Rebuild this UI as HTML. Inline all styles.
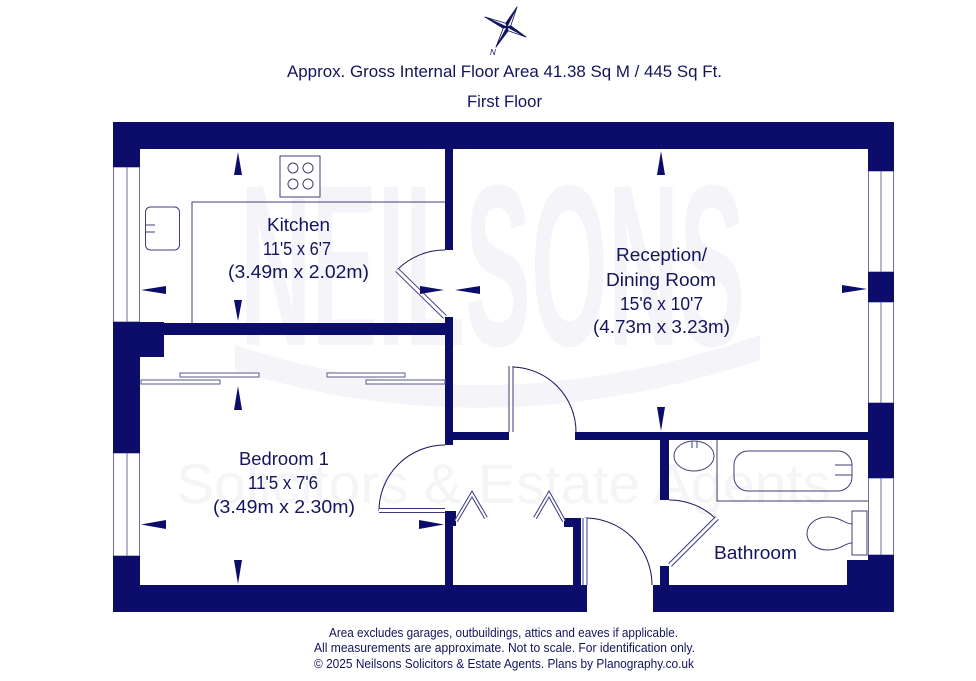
<!DOCTYPE html>
<html><head><meta charset="utf-8"><style>
html,body{margin:0;padding:0;background:#fff;}
svg{display:block;}
text{font-family:"Liberation Sans",sans-serif;fill:#14145e;}
</style></head><body>
<svg width="976" height="681" viewBox="0 0 976 681" xmlns="http://www.w3.org/2000/svg">
<rect width="976" height="681" fill="#fff"/>
<!-- watermark -->
<g>
<path d="M235,345 Q490,430 760,335 L760,360 Q490,450 235,370 Z" fill="#f4f4f9"/>
<text x="240" y="345" font-family="Liberation Serif,serif" font-weight="bold" font-size="230" textLength="505" lengthAdjust="spacingAndGlyphs" style="fill:#f4f4f9">NEILSONS</text>
<text x="176" y="503" font-size="56" textLength="655" lengthAdjust="spacingAndGlyphs" style="fill:#f5f5f8">Solicitors &amp; Estate Agents</text>
</g>

<!-- compass -->
<g stroke="#14145e" stroke-width="0.8" stroke-linejoin="round">
<polygon points="507,27 517,7 505.7,23.2" fill="#14145e"/>
<polygon points="507,27 517,7 510.8,25.8" fill="#fff"/>
<polygon points="507,27 526,37 510.8,25.8" fill="#14145e"/>
<polygon points="507,27 526,37 508.2,30.8" fill="#fff"/>
<polygon points="507,27 496,47 508.2,30.8" fill="#14145e"/>
<polygon points="507,27 496,47 503.2,28.3" fill="#fff"/>
<polygon points="507,27 485,17 503.2,28.3" fill="#14145e"/>
<polygon points="507,27 485,17 505.7,23.2" fill="#fff"/>
</g>
<text x="490" y="55" font-size="8" font-style="italic">N</text>

<!-- titles -->
<text x="287" y="77" font-size="17" textLength="435" lengthAdjust="spacingAndGlyphs">Approx. Gross Internal Floor Area 41.38 Sq M / 445 Sq Ft.</text>
<text x="467" y="107" font-size="17" textLength="75" lengthAdjust="spacingAndGlyphs">First Floor</text>

<!-- windows -->
<g fill="#fff" stroke="#6e6e98" stroke-width="1">
<rect x="113.5" y="167" width="26" height="155"/>
<line x1="127" y1="167" x2="127" y2="322"/>
<rect x="113.5" y="453" width="26" height="103"/>
<line x1="127" y1="453" x2="127" y2="556"/>
<rect x="868.5" y="171" width="25" height="101"/>
<line x1="881" y1="171" x2="881" y2="272"/>
<rect x="868.5" y="302" width="25" height="101"/>
<line x1="881" y1="302" x2="881" y2="403"/>
<rect x="868.5" y="478" width="25" height="77"/>
<line x1="881" y1="478" x2="881" y2="555"/>
</g>

<!-- walls -->
<g fill="#0c0c6a">
<rect x="113" y="122" width="781" height="27"/>
<rect x="113" y="122" width="27" height="45"/>
<rect x="113" y="322" width="27" height="131"/>
<rect x="113" y="322" width="51" height="35"/>
<rect x="140" y="323" width="313" height="12"/>
<rect x="113" y="556" width="27" height="56"/>
<rect x="113" y="585" width="474" height="27"/>
<rect x="653" y="585" width="241" height="27"/>
<rect x="868" y="122" width="26" height="49"/>
<rect x="868" y="272" width="26" height="30"/>
<rect x="868" y="403" width="26" height="75"/>
<rect x="868" y="555" width="26" height="57"/>
<rect x="847" y="560" width="21" height="25"/>
<rect x="445" y="149" width="8" height="101"/>
<rect x="445" y="317" width="8" height="128"/>
<rect x="445" y="511" width="8" height="74"/>
<rect x="445" y="511" width="11" height="15"/>
<rect x="573" y="518" width="8" height="67"/>
<rect x="564" y="518" width="17" height="9"/>
<rect x="453" y="432" width="56" height="8"/>
<rect x="575" y="432" width="293" height="8"/>
<rect x="660" y="440" width="9" height="60"/>
<rect x="660" y="566" width="9" height="19"/>
</g>

<!-- doors -->
<g fill="none" stroke="#14145e" stroke-width="1">
<path d="M445,250 A67,67 0 0 0 397,270"/>
<path d="M445,445 A66,66 0 0 0 379,511"/>
<path d="M511,367 A65,65 0 0 1 576,432"/>
<path d="M585,518 A67,67 0 0 1 652,585"/>
<path d="M669,500 A66,66 0 0 1 716,519"/>
</g>
<g stroke-linecap="butt">
<line x1="445" y1="317" x2="397" y2="270" stroke="#3a3a80" stroke-width="5"/>
<line x1="445" y1="317" x2="397" y2="270" stroke="#fff" stroke-width="3"/>
<line x1="379" y1="510.5" x2="445" y2="510.5" stroke="#3a3a80" stroke-width="5"/>
<line x1="379" y1="510.5" x2="445" y2="510.5" stroke="#fff" stroke-width="3"/>
<line x1="511" y1="366" x2="511" y2="432" stroke="#3a3a80" stroke-width="5"/>
<line x1="511" y1="366" x2="511" y2="432" stroke="#fff" stroke-width="3"/>
<line x1="585" y1="518" x2="585" y2="585" stroke="#3a3a80" stroke-width="5"/>
<line x1="585" y1="518" x2="585" y2="585" stroke="#fff" stroke-width="3"/>
<line x1="670" y1="565" x2="717" y2="518" stroke="#3a3a80" stroke-width="5"/>
<line x1="670" y1="565" x2="717" y2="518" stroke="#fff" stroke-width="3"/>
<polyline points="456,521 472,494 486,518" fill="none" stroke="#3a3a80" stroke-width="4"/>
<polyline points="456,521 472,494 486,518" fill="none" stroke="#fff" stroke-width="2"/>
<polyline points="535,518 549,494 564,521" fill="none" stroke="#3a3a80" stroke-width="4"/>
<polyline points="535,518 549,494 564,521" fill="none" stroke="#fff" stroke-width="2"/>
</g>

<!-- wardrobes -->
<g fill="#fff" stroke="#5a5a8a" stroke-width="1">
<rect x="141" y="380" width="79" height="4"/>
<rect x="180" y="373" width="79" height="4"/>
<rect x="327" y="373" width="78" height="4"/>
<rect x="366" y="380" width="79" height="4"/>
</g>

<!-- kitchen fixtures -->
<g fill="none" stroke="#3f3f78" stroke-width="1">
<polyline points="445,202 192,202 192,323"/>
<rect x="280" y="156" width="40" height="41" fill="#fff"/>
<circle cx="293" cy="168" r="5"/>
<circle cx="308" cy="168" r="5"/>
<circle cx="293" cy="184" r="5"/>
<circle cx="308" cy="184" r="5"/>
<rect x="145.5" y="207" width="34" height="43" rx="5"/>
<line x1="145" y1="225" x2="155" y2="225"/>
<line x1="145" y1="232" x2="155" y2="232"/>
</g>

<!-- bathroom fixtures -->
<g fill="none" stroke="#3f3f78" stroke-width="1">
<ellipse cx="694" cy="456" rx="20" ry="15"/>
<line x1="692" y1="441" x2="692" y2="448"/>
<line x1="697" y1="441" x2="697" y2="448"/>
<polyline points="717,440 717,501 868,501"/>
<rect x="734" y="451" width="118" height="40" rx="14"/>
<line x1="835" y1="465" x2="852" y2="465"/>
<line x1="835" y1="475" x2="852" y2="475"/>
<rect x="852" y="511" width="15" height="44"/>
<path d="M852,524 C845,524 840,517 828,517 C815,517 807,525 807,533.5 C807,542 815,550 828,550 C840,550 845,543 852,543"/>
</g>

<!-- dimension arrows -->
<g fill="#0c0c6a">
<polygon points="238,152 234,175 242,175"/>
<polygon points="234,300 242,300 238,321"/>
<polygon points="166,286 166,294 141,290"/>
<polygon points="420,286 420,294 444,290"/>
<polygon points="480,286 480,294 455,290"/>
<polygon points="661,151 657,175 665,175"/>
<polygon points="657,407 665,407 661,431"/>
<polygon points="842,285 842,293 867,289"/>
<polygon points="238,386 234,410 242,410"/>
<polygon points="234,560 242,560 238,584"/>
<polygon points="166,520 166,529 141,524.5"/>
<polygon points="419,520 419,529 444,524.5"/>
</g>

<!-- room labels -->
<g font-size="18">
<text x="267" y="231" textLength="63" lengthAdjust="spacingAndGlyphs">Kitchen</text>
<text x="263" y="255" textLength="68" lengthAdjust="spacingAndGlyphs">11'5 x 6'7</text>
<text x="228" y="278" textLength="141" lengthAdjust="spacingAndGlyphs">(3.49m x 2.02m)</text>
<text x="616" y="261" textLength="91" lengthAdjust="spacingAndGlyphs">Reception/</text>
<text x="606" y="286" textLength="110" lengthAdjust="spacingAndGlyphs">Dining Room</text>
<text x="620" y="310" textLength="83" lengthAdjust="spacingAndGlyphs">15'6 x 10'7</text>
<text x="593" y="333" textLength="137" lengthAdjust="spacingAndGlyphs">(4.73m x 3.23m)</text>
<text x="239" y="465" textLength="90" lengthAdjust="spacingAndGlyphs">Bedroom 1</text>
<text x="248" y="489" textLength="70" lengthAdjust="spacingAndGlyphs">11'5 x 7'6</text>
<text x="213" y="513" textLength="142" lengthAdjust="spacingAndGlyphs">(3.49m x 2.30m)</text>
<text x="714" y="559" textLength="83" lengthAdjust="spacingAndGlyphs">Bathroom</text>
</g>

<!-- footer -->
<g font-size="12.5">
<text x="329" y="637" textLength="349" lengthAdjust="spacingAndGlyphs">Area excludes garages, outbuildings, attics and eaves if applicable.</text>
<text x="314" y="652" textLength="381" lengthAdjust="spacingAndGlyphs">All measurements are approximate. Not to scale. For identification only.</text>
<text x="314" y="668" textLength="380" lengthAdjust="spacingAndGlyphs">© 2025 Neilsons Solicitors &amp; Estate Agents. Plans by Planography.co.uk</text>
</g>
</svg>
</body></html>
